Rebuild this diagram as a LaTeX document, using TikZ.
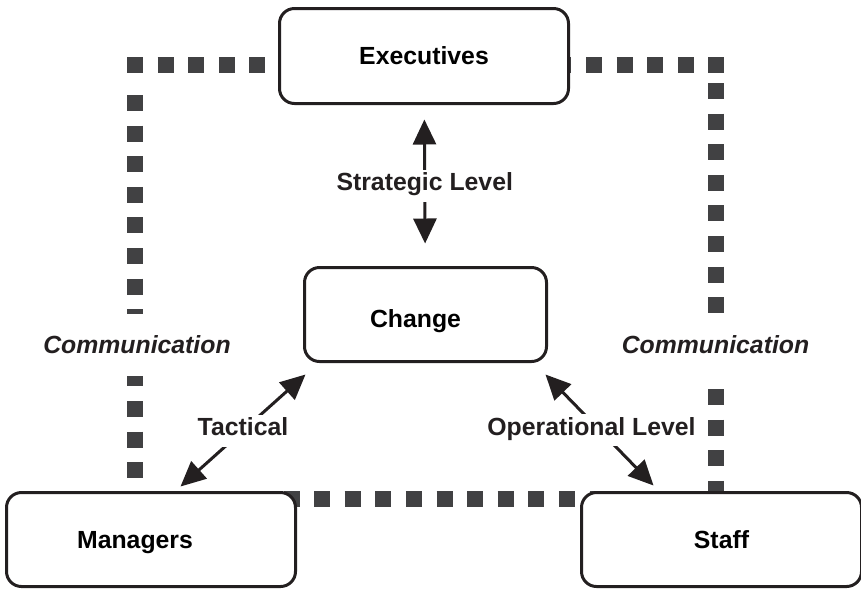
\documentclass[tikz,border=0pt]{standalone}
\usepackage{fontspec}
\setmainfont{Liberation Sans}
\usetikzlibrary{calc, positioning, arrows.meta}

\definecolor{framegray}{HTML}{414143}
\definecolor{inkblack}{HTML}{231F20}

\begin{document}
\begin{tikzpicture}[x=0.5pt, y=-0.5pt,
        level/.style={draw=inkblack, line width=1.5pt, rounded corners=7.5pt, fill=white, inner sep=0pt,
            minimum height=47pt, text height=8.9pt, text depth=0pt, font=\bfseries\fontsize{12.4}{15}\selectfont},
        conn/.style={{Triangle[length=12.5pt,width=11.5pt]}-{Triangle[length=12.5pt,width=11.5pt]},
            draw=inkblack, line width=1.5pt},
        connlabel/.style={fill=white, inner sep=3pt, text height=0.75em, text depth=0.25em,
            text=inkblack, font=\bfseries\fontsize{12.4}{15}\selectfont},
        commframe/.style={draw=framegray, line width=8pt, dash pattern=on 8pt off 7.3pt},
        commlabel/.style={fill=white, inner xsep=2pt, inner ysep=11pt, text=inkblack,
            font=\bfseries\itshape\fontsize{12.4}{15}\selectfont}]
        \useasboundingbox (0,0) rectangle (861,591);

        % communication frame, behind everything
        \coordinate (ftl) at (135,65);
        \coordinate (ftr) at (716,65);
        \coordinate (fbr) at (716,499);
        \coordinate (fbl) at (135,499);
        \draw[commframe, shorten <=-4pt, shorten >=-4pt] (ftl) -- (ftr);
        \draw[commframe, shorten <=15pt] (ftl) -- (fbl);
        \draw[commframe, shorten <=9pt] (ftr) -- (fbr);
        \draw[commframe, shorten <=-2.25pt] (fbl) -- (fbr);

        \node[commlabel] (commleft) at (137,345) {Communication};
        \node[commlabel] (commright) at (715.5,345) {Communication};

        \node[level, minimum width=144.5pt, minimum height=47.5pt] (execs) at (424,56) {Executives};
        \node[level, minimum width=121pt, text height=13.4pt] (change) at (425.5,314.5) {Change\hspace*{10pt}};
        \node[level, minimum width=144.5pt] (managers) at (151,539.5) {Managers\hspace*{16pt}};
        \node[level, minimum width=140pt, right=141.5pt of managers] (staff) {Staff};

        \draw[conn, shorten <=7.25pt, shorten >=11.25pt] (execs) -- node[connlabel] (strat) {Strategic Level} (change);
        \draw[conn] ($(managers.north west)+(175.5,-4.5)$) -- node[connlabel] (tact) {Tactical}
            ($(change.south west)+(2.5,11.5)$);
        \draw[conn] ($(change.south east)+(-2.5,11.5)$) -- node[connlabel, xshift=-4pt] (oper) {Operational Level}
            ($(staff.north west)+(73.5,-5.5)$);

    \end{tikzpicture}
\end{document}
